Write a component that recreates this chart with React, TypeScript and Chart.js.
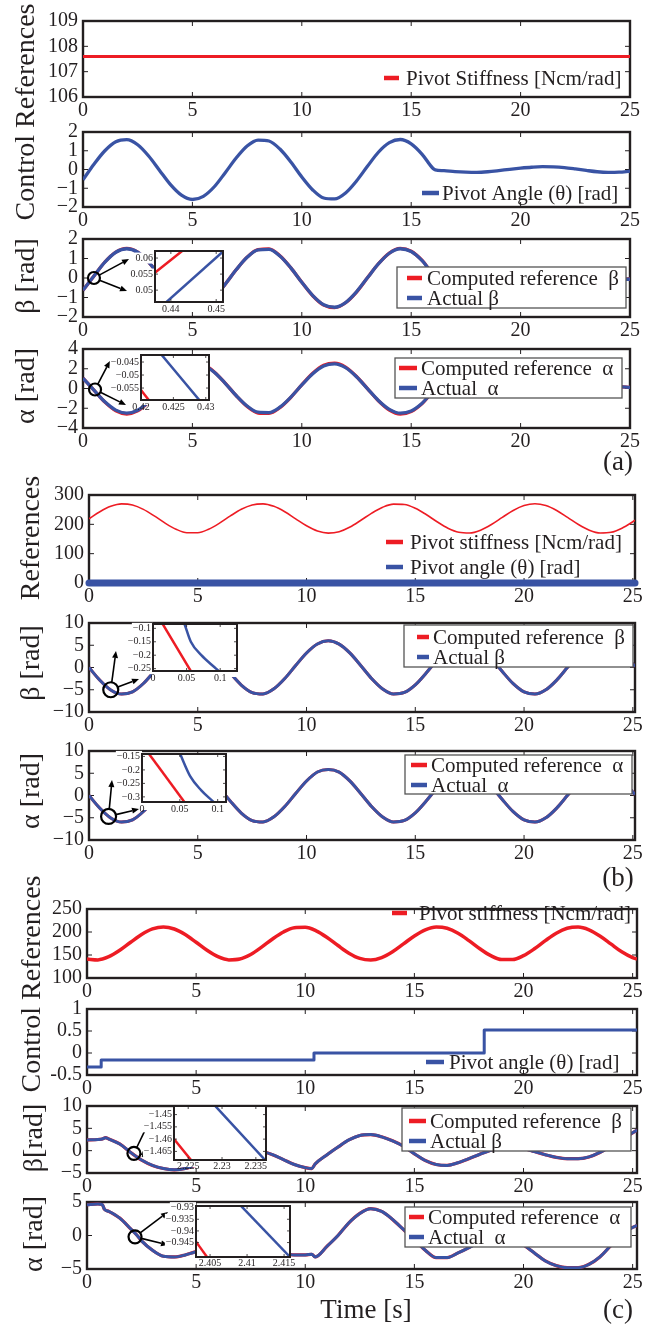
import React, { useEffect, useRef } from 'react';
import { Chart, registerables } from 'chart.js';

Chart.register(...registerables);

const FONT = '"Liberation Serif", "Times New Roman", Times, serif';
const RED = '#ed1c24';
const BLUE = '#3953a4';
const INK = '#231f20';

// ------------------------------------------------------------------ data
const X_TICKS = [0, 5, 10, 15, 20, 25];

const T_HALF = [0, 0.5, 1, 1.5, 2, 2.5, 3, 3.5, 4, 4.5, 5, 5.5, 6, 6.5, 7, 7.5, 8, 8.5, 9, 9.5, 10, 10.5, 11, 11.5, 12, 12.5, 13, 13.5, 14, 14.5, 15, 15.5, 16, 16.5, 17, 17.5, 18, 18.5, 19, 19.5, 20, 20.5, 21, 21.5, 22, 22.5, 23, 23.5, 24, 24.5, 25];

// (a)
const A1_T = [0, 25];
const A1_STIFFNESS = [107.6, 107.6];
const A1_YTICKS = [106, 107, 108, 109];

const A2_T = [0, 0.5, 1, 1.5, 2, 2.5, 3, 3.5, 4, 4.5, 5, 5.5, 6, 6.5, 7, 7.5, 8, 8.5, 9, 9.5, 10, 10.5, 11, 11.5, 12, 12.5, 13, 13.5, 14, 14.5, 15, 15.5, 16, 16.1, 16.5, 17, 17.5, 18, 18.5, 19, 19.5, 20, 20.5, 21, 21.5, 22, 22.5, 23, 23.5, 24, 24.5, 25];
const A2_THETA = [-0.55, 0.28, 1.0, 1.48, 1.59, 1.32, 0.72, -0.05, -0.81, -1.37, -1.6, -1.43, -0.92, -0.17, 0.61, 1.25, 1.57, 1.52, 1.09, 0.4, -0.4, -1.09, -1.52, -1.57, -1.25, -0.61, 0.17, 0.92, 1.43, 1.6, 1.37, 0.81, 0.05, -0.02, -0.06, -0.11, -0.14, -0.15, -0.12, -0.06, 0.01, 0.07, 0.12, 0.15, 0.14, 0.1, 0.03, -0.05, -0.12, -0.15, -0.14, -0.09];
const A2_YTICKS = [-2, -1, 0, 1, 2];

const A3_BETA_ACT = [-0.63, 0.1, 0.81, 1.32, 1.5, 1.32, 0.81, 0.11, -0.62, -1.2, -1.49, -1.41, -0.98, -0.32, 0.42, 1.06, 1.44, 1.47, 1.13, 0.52, -0.22, -0.9, -1.37, -1.5, -1.26, -0.71, 0.01, 0.72, 1.27, 1.5, 1.36, 0.89, 0.21, -0.06, -0.11, -0.14, -0.15, -0.12, -0.06, 0.01, 0.07, 0.12, 0.15, 0.14, 0.1, 0.03, -0.05, -0.12, -0.15, -0.12, -0.05];
const A3_BETA_REF = [-0.63, 0.1, 0.82, 1.33, 1.52, 1.33, 0.82, 0.11, -0.63, -1.21, -1.51, -1.42, -0.99, -0.32, 0.42, 1.07, 1.46, 1.49, 1.14, 0.52, -0.22, -0.91, -1.39, -1.52, -1.27, -0.72, 0.01, 0.73, 1.28, 1.52, 1.37, 0.9, 0.21, -0.06, -0.11, -0.14, -0.15, -0.12, -0.06, 0.01, 0.07, 0.12, 0.15, 0.14, 0.1, 0.03, -0.05, -0.12, -0.15, -0.12, -0.05];
const A3_YTICKS = [-2, -1, 0, 1, 2];

const A4_ALPHA_ACT = [1.04, -0.17, -1.35, -2.19, -2.5, -2.2, -1.35, -0.18, 1.04, 2.0, 2.48, 2.35, 1.64, 0.53, -0.71, -1.77, -2.4, -2.44, -1.89, -0.87, 0.36, 1.5, 2.28, 2.49, 2.11, 1.19, -0.01, -1.21, -2.11, -2.5, -2.27, -1.49, -0.34, 0.08, 0.18, 0.23, 0.25, 0.2, 0.1, -0.01, -0.12, -0.2, -0.25, -0.23, -0.16, -0.05, 0.08, 0.2, 0.25, 0.2, 0.12];
const A4_ALPHA_REF = [1.05, -0.17, -1.38, -2.26, -2.58, -2.27, -1.38, -0.18, 1.06, 2.06, 2.56, 2.42, 1.68, 0.54, -0.73, -1.83, -2.48, -2.52, -1.94, -0.89, 0.37, 1.54, 2.35, 2.57, 2.17, 1.22, -0.01, -1.24, -2.18, -2.58, -2.34, -1.53, -0.35, 0.08, 0.18, 0.23, 0.25, 0.2, 0.1, -0.01, -0.12, -0.2, -0.25, -0.23, -0.16, -0.05, 0.08, 0.2, 0.25, 0.2, 0.12];
const A4_YTICKS = [-4, -2, 0, 2, 4];

// (a) insets
const A3_IN_XTICKS = [0.44, 0.45];
const A3_IN_YTICKS = [0.05, 0.055, 0.06];
const A3_IN_REF_T = [0.435, 0.444];
const A3_IN_REF = [0.0538, 0.0639];
const A3_IN_ACT_T = [0.438, 0.4525];
const A3_IN_ACT = [0.045, 0.0633];

const A4_IN_XTICKS = [0.42, 0.425, 0.43];
const A4_IN_YTICKS = [-0.055, -0.05, -0.045];
const A4_IN_REF_T = [0.4195, 0.4218];
const A4_IN_REF = [-0.0542, -0.0615];
const A4_IN_ACT_T = [0.4228, 0.4296];
const A4_IN_ACT = [-0.0411, -0.0614];

// (b)
const B_T = [0, 0.5, 1, 1.5, 2, 2.5, 3, 3.5, 4, 4.5, 5, 5.5, 6, 6.5, 7, 7.5, 8, 8.5, 9, 9.5, 10, 10.5, 11, 11.5, 12, 12.5, 13, 13.5, 14, 14.5, 15, 15.5, 16, 16.5, 17, 17.5, 18, 18.5, 19, 19.5, 20, 20.5, 21, 21.5, 22, 22.5, 23, 23.5, 24, 24.5, 25, 25.1];
const B1_STIFFNESS = [218.8, 242.8, 261.3, 269.7, 266.1, 251.1, 228.7, 204.1, 183.4, 171.5, 171.5, 183.4, 204.1, 228.7, 251.2, 266.1, 269.8, 261.3, 242.8, 218.8, 195.0, 177.2, 170.1, 174.9, 190.8, 213.8, 238.3, 258.3, 269.0, 267.8, 254.9, 233.4, 208.9, 186.9, 173.0, 170.6, 180.2, 199.5, 223.7, 247.2, 263.9, 270.0, 263.9, 247.1, 223.7, 199.5, 180.2, 170.6, 172.9, 186.9, 208.9, 213.8];
const B1_ANGLE_T = [0, 25.1];
const B1_ANGLE = [0, 0];
const B1_YTICKS = [0, 100, 200, 300];

const B2_BETA_ACT = [0, -2.87, -5.05, -5.98, -5.46, -3.59, -0.85, 2.1, 4.54, 5.87, 5.75, 4.24, 1.68, -1.29, -3.94, -5.63, -5.94, -4.79, -2.47, 0.45, 3.26, 5.28, 6.0, 5.25, 3.22, 0.4, -2.52, -4.82, -5.95, -5.61, -3.9, -1.24, 1.73, 4.27, 5.77, 5.87, 4.51, 2.05, -0.9, -3.63, -5.48, -5.98, -5.02, -2.83, 0.05, 2.92, 5.08, 5.99, 5.44, 3.55, 0.79, 0.2];
const B2_BETA_REF = [0, -2.87, -5.05, -5.98, -5.46, -3.59, -0.85, 2.1, 4.54, 5.87, 5.75, 4.24, 1.68, -1.29, -3.94, -5.63, -5.94, -4.79, -2.47, 0.45, 3.26, 5.28, 6.0, 5.25, 3.22, 0.4, -2.52, -4.82, -5.95, -5.61, -3.9, -1.24, 1.73, 4.27, 5.77, 5.87, 4.51, 2.05, -0.9, -3.63, -5.48, -5.98, -5.02, -2.83, 0.05, 2.92, 5.08, 5.99, 5.44, 3.55, 0.79, 0.2];
const B3_ALPHA_ACT = [0, -2.87, -5.05, -5.98, -5.46, -3.59, -0.85, 2.1, 4.54, 5.75, 5.65, 4.24, 1.68, -1.29, -3.94, -5.63, -5.94, -4.79, -2.47, 0.45, 3.26, 5.28, 5.85, 5.25, 3.22, 0.4, -2.52, -4.82, -5.95, -5.61, -3.9, -1.24, 1.73, 4.27, 5.65, 5.75, 4.51, 2.05, -0.9, -3.63, -5.48, -5.98, -5.02, -2.83, 0.05, 2.92, 5.08, 5.85, 5.44, 3.55, 0.79, 0.2];
const B3_ALPHA_REF = [0, -2.87, -5.05, -5.98, -5.46, -3.59, -0.85, 2.1, 4.54, 5.75, 5.65, 4.24, 1.68, -1.29, -3.94, -5.63, -5.94, -4.79, -2.47, 0.45, 3.26, 5.28, 5.85, 5.25, 3.22, 0.4, -2.52, -4.82, -5.95, -5.61, -3.9, -1.24, 1.73, 4.27, 5.65, 5.75, 4.51, 2.05, -0.9, -3.63, -5.48, -5.98, -5.02, -2.83, 0.05, 2.92, 5.08, 5.85, 5.44, 3.55, 0.79, 0.2];
const B_YTICKS = [-10, -5, 0, 5, 10];

// (b) insets
const B2_IN_XTICKS = [0, 0.05, 0.1];
const B2_IN_YTICKS = [-0.25, -0.2, -0.15, -0.1];
const B2_IN_REF_T = [0.012, 0.058];
const B2_IN_REF = [-0.0738, -0.2661];
const B2_IN_ACT_T = [0.045, 0.0469, 0.0563, 0.0719, 0.0938, 0.099];
const B2_IN_ACT = [-0.071, -0.0838, -0.15, -0.2, -0.25, -0.262];

const B3_IN_XTICKS = [0, 0.05, 0.1];
const B3_IN_YTICKS = [-0.3, -0.25, -0.2, -0.15];
const B3_IN_REF_T = [0.007, 0.058];
const B3_IN_REF = [-0.1322, -0.3266];
const B3_IN_ACT_T = [0.049, 0.0505, 0.064, 0.078, 0.0945, 0.097];
const B3_IN_ACT = [-0.131, -0.141, -0.225, -0.275, -0.319, -0.326];

// (c)
const C_T = [0, 0.5, 1, 1.5, 2, 2.5, 3, 3.5, 4, 4.5, 5, 5.5, 6, 6.5, 7, 7.5, 8, 8.5, 9, 9.5, 10, 10.5, 11, 11.5, 12, 12.5, 13, 13.5, 14, 14.5, 15, 15.5, 16, 16.5, 17, 17.5, 18, 18.5, 19, 19.5, 20, 20.5, 21, 21.5, 22, 22.5, 23, 23.5, 24, 24.5, 25, 25.2];
const C1_STIFFNESS = [141.2, 139.4, 146.3, 160.2, 177.7, 194.5, 206.6, 211.0, 206.5, 194.5, 177.7, 160.2, 146.3, 139.4, 141.2, 151.2, 167.0, 184.8, 200.1, 209.4, 210.3, 202.6, 188.2, 170.6, 154.0, 142.5, 139.0, 144.3, 157.0, 174.1, 191.5, 204.7, 210.8, 208.1, 197.4, 181.3, 163.6, 148.6, 140.1, 140.1, 148.6, 163.5, 181.2, 197.4, 208.1, 210.8, 204.8, 191.5, 174.2, 157.0, 144.3, 141.2];
const C1_YTICKS = [100, 150, 200, 250];

const C2_T = [0, 0.65, 10.4, 18.2, 25.2];
const C2_THETA = [-0.32, -0.16, 0.0, 0.52, 0.52];
const C2_YTICKS = [-0.5, 0, 0.5, 1];

const C3_T = [0, 0.5, 0.7, 0.85, 1, 1.5, 2, 2.5, 3, 3.5, 4, 4.5, 5, 5.5, 6, 6.5, 7, 7.5, 8, 8.5, 9, 9.5, 10, 10.3, 10.45, 11, 11.5, 12, 12.5, 13, 13.5, 14, 14.5, 15, 15.5, 16, 16.5, 17, 17.5, 18, 18.5, 19, 19.5, 20, 20.5, 21, 21.5, 22, 22.5, 23, 23.5, 24, 24.5, 25, 25.2];
const C3_BETA_ACT = [2.4, 2.5, 2.6, 2.9, 2.6, 1.5, -0.4, -2.1, -3.3, -4.0, -4.3, -4.0, -3.2, -2.2, -1.0, 0.0, 0.5, 0.4, -0.1, -0.9, -2.0, -3.1, -3.8, -4.0, -3.0, -0.9, 0.8, 2.4, 3.4, 3.6, 3.1, 2.2, 1.0, -0.7, -2.2, -3.1, -3.3, -2.7, -1.8, -0.8, 0.1, 0.6, 0.8, 0.5, -0.2, -0.9, -1.5, -1.8, -1.8, -1.4, -0.4, 1.0, 2.5, 4.0, 4.6];
const C3_BETA_REF = [2.4, 2.5, 2.6, 2.9, 2.6, 1.5, -0.4, -2.1, -3.3, -4.0, -4.3, -4.0, -3.2, -2.2, -1.0, 0.0, 0.5, 0.4, -0.1, -0.9, -2.0, -3.1, -3.8, -4.0, -3.0, -0.9, 0.8, 2.4, 3.4, 3.6, 3.1, 2.2, 1.0, -0.7, -2.2, -3.1, -3.3, -2.7, -1.8, -0.8, 0.1, 0.6, 0.8, 0.5, -0.2, -0.9, -1.5, -1.8, -1.8, -1.4, -0.4, 1.0, 2.5, 4.0, 4.6];
const C3_YTICKS = [-5, 0, 5, 10];

const C4_T = [0, 0.5, 0.7, 0.8, 1, 1.5, 2, 2.3, 2.5, 3, 3.5, 4, 4.5, 5, 5.5, 6, 6.5, 7, 7.5, 8, 8.5, 9, 9.5, 10, 10.3, 10.45, 11, 11.5, 12, 12.5, 13, 13.5, 14, 14.5, 15, 15.5, 16, 16.5, 17, 17.5, 18, 18.5, 19, 19.5, 20, 20.5, 21, 21.5, 22, 22.5, 23, 23.5, 24, 24.5, 25, 25.2];
const C4_ALPHA_ACT = [4.6, 4.7, 4.6, 3.9, 3.6, 2.6, 1.0, 0.0, -0.8, -2.2, -3.1, -3.2, -2.9, -2.4, -1.8, -1.2, -0.8, -0.7, -1.0, -1.5, -2.1, -2.6, -2.9, -2.9, -2.8, -3.2, -1.6, 0.0, 1.9, 3.3, 4.0, 3.6, 2.4, 0.9, -0.6, -2.2, -3.3, -3.3, -2.6, -1.8, -0.9, -0.2, 0.0, -0.4, -1.4, -2.6, -3.8, -4.5, -4.8, -4.8, -4.3, -3.2, -1.5, 0.2, 1.2, 1.5];
const C4_ALPHA_REF = [4.6, 4.7, 4.6, 3.9, 3.6, 2.6, 1.0, 0.0, -0.8, -2.2, -3.1, -3.2, -2.9, -2.4, -1.8, -1.2, -0.8, -0.7, -1.0, -1.5, -2.1, -2.6, -2.9, -2.9, -2.8, -3.2, -1.6, 0.0, 1.9, 3.3, 4.0, 3.6, 2.4, 0.9, -0.6, -2.2, -3.3, -3.3, -2.6, -1.8, -0.9, -0.2, 0.0, -0.4, -1.4, -2.6, -3.8, -4.5, -4.8, -4.8, -4.3, -3.2, -1.5, 0.2, 1.2, 1.5];
const C4_YTICKS = [-5, 0, 5];

// (c) insets
const C3_IN_XTICKS = [2.225, 2.23, 2.235];
const C3_IN_YTICKS = [-1.465, -1.46, -1.455, -1.45];
const C3_IN_REF_T = [2.2222, 2.226];
const C3_IN_REF = [-1.4576, -1.4705];
const C3_IN_ACT_T = [2.2285, 2.237];
const C3_IN_ACT = [-1.445, -1.4704];

const C4_IN_XTICKS = [2.405, 2.41, 2.415];
const C4_IN_YTICKS = [-0.945, -0.94, -0.935, -0.93];
const C4_IN_REF_T = [2.4025, 2.405];
const C4_IN_REF = [-0.942, -0.953];
const C4_IN_ACT_T = [2.4088, 2.4162];
const C4_IN_ACT = [-0.928, -0.9525];

// ------------------------------------------------------------------ types
type Series = { x: number[]; y: number[]; color: string; width: number; order?: number; stepped?: boolean; noClip?: boolean; cap?: 'butt' | 'round' };
type LegendSpec = { items: { label: string; color: string }[]; s0: number; s1: number; tx: number; rows: number[]; box?: [number, number, number, number] };
type Annot = { cx: number; cy: number; r: number; ends: [number, number][] };
type Panel = {
  left: number; right: number; top: number; bottom: number;
  xMin: number; xMax: number; yMin: number; yMax: number; yTicks: number[]; xTicks?: number[];
  hyphen?: boolean; series: Series[]; legend?: LegendSpec; annot?: Annot; stripH?: number; labelPad?: number;
};
type Spec = Panel & {
  cx: number; cy: number; cw: number; ch: number; yAxisW: number; padT: number; padR: number; xAxisH: number;
  xTicks: number[]; fontSize: number; padX: number; padY: number; tickLen: number; tickW: number; frameW: number;
  frameOnTop: boolean; white: boolean;
};

const fmt = (v: number, hyphen = false) => (v < 0 ? (hyphen ? '-' : '\u2212') + String(Math.abs(v)) : String(v));

// ------------------------------------------------------------------ layout
const W = 657;
const M_PAD_T = 14;
const M_XAXIS_H = 30;

function mainSpec(p: Panel): Spec {
  return {
    ...p,
    xTicks: p.xTicks ?? X_TICKS,
    cx: 0, cy: p.top - M_PAD_T, cw: W, ch: p.bottom - p.top + M_PAD_T + M_XAXIS_H,
    yAxisW: p.left, padT: M_PAD_T, padR: W - p.right, xAxisH: M_XAXIS_H,
    fontSize: 20, padX: 2, padY: 5, tickLen: 5, tickW: 1, frameW: 2.4, frameOnTop: false, white: false,
  };
}

const I_L = 42, I_T = 8, I_R = 16, I_B = 16;
function insetSpec(p: Panel): Spec {
  return {
    ...p,
    xTicks: p.xTicks ?? [],
    cx: p.left - I_L, cy: p.top - I_T, cw: p.right - p.left + I_L + I_R, ch: p.bottom - p.top + I_T + I_B,
    yAxisW: I_L, padT: I_T, padR: I_R, xAxisH: I_B,
    fontSize: 10, padX: p.labelPad ?? 1, padY: 2, tickLen: 3, tickW: 0.8, frameW: 2, frameOnTop: true, white: true,
  };
}

const red = (x: number[], y: number[], width: number): Series => ({ x, y, color: RED, width, order: 1 });
const blue = (x: number[], y: number[], width: number): Series => ({ x, y, color: BLUE, width, order: 0 });

const MAIN: Spec[] = [
  mainSpec({
    left: 83, right: 630, top: 18, bottom: 97, xMin: 0, xMax: 25, yMin: 106, yMax: 109, yTicks: A1_YTICKS,
    series: [red(A1_T, A1_STIFFNESS, 3)],
    legend: { items: [{ label: 'Pivot Stiffness [Ncm/rad]', color: RED }], s0: 384, s1: 399, tx: 406, rows: [78] },
  }),
  mainSpec({
    left: 83, right: 630, top: 129, bottom: 207, xMin: 0, xMax: 25, yMin: -2, yMax: 2, yTicks: A2_YTICKS,
    series: [blue(A2_T, A2_THETA, 3.3)],
    legend: { items: [{ label: 'Pivot Angle (\u03b8) [rad]', color: BLUE }], s0: 422, s1: 439, tx: 442, rows: [193] },
  }),
  mainSpec({
    left: 83, right: 630, top: 236, bottom: 317, xMin: 0, xMax: 25, yMin: -2, yMax: 2, yTicks: A3_YTICKS,
    series: [red(T_HALF, A3_BETA_REF, 3.3), blue(T_HALF, A3_BETA_ACT, 3.3)],
    legend: { items: [{ label: 'Computed reference  \u03b2', color: RED }, { label: 'Actual \u03b2', color: BLUE }], s0: 407, s1: 422, tx: 427, rows: [278, 298], box: [397, 267, 626, 308] },
    annot: { cx: 0.5, cy: 0, r: 6, ends: [[129, 259], [127, 291]] },
  }),
  mainSpec({
    left: 83, right: 630, top: 346, bottom: 428, xMin: 0, xMax: 25, yMin: -4, yMax: 4, yTicks: A4_YTICKS,
    series: [red(T_HALF, A4_ALPHA_REF, 3.3), blue(T_HALF, A4_ALPHA_ACT, 3.3)],
    legend: { items: [{ label: 'Computed reference  \u03b1', color: RED }, { label: 'Actual  \u03b1', color: BLUE }], s0: 399, s1: 417, tx: 421, rows: [368, 388], box: [395, 358, 622, 398] },
    annot: { cx: 0.55, cy: -0.1, r: 6, ends: [[110, 361], [126, 405]] },
  }),
  mainSpec({
    left: 89, right: 635, top: 492, bottom: 583, xMin: 0, xMax: 25.1, yMin: 0, yMax: 300, yTicks: B1_YTICKS,
    series: [red(B_T, B1_STIFFNESS, 1.6), { x: B1_ANGLE_T, y: B1_ANGLE, color: BLUE, width: 7, order: 0, noClip: true, cap: 'round' }],
    legend: { items: [{ label: 'Pivot stiffness [Ncm/rad]', color: RED }, { label: 'Pivot angle (\u03b8) [rad]', color: BLUE }], s0: 386, s1: 403, tx: 410, rows: [542, 567] },
  }),
  mainSpec({
    left: 89, right: 635, top: 620, bottom: 712, xMin: 0, xMax: 25.1, yMin: -10, yMax: 10, yTicks: B_YTICKS,
    series: [red(B_T, B2_BETA_REF, 3), blue(B_T, B2_BETA_ACT, 3)],
    legend: { items: [{ label: 'Computed reference  \u03b2', color: RED }, { label: 'Actual \u03b2', color: BLUE }], s0: 417, s1: 429, tx: 433, rows: [637, 657], box: [404, 625, 633, 667] },
    annot: { cx: 1.0, cy: -5.0, r: 7.5, ends: [[116, 651], [139, 679]] },
  }),
  mainSpec({
    left: 89, right: 635, top: 748, bottom: 840, xMin: 0, xMax: 25.1, yMin: -10, yMax: 10, yTicks: B_YTICKS,
    series: [red(B_T, B3_ALPHA_REF, 3), blue(B_T, B3_ALPHA_ACT, 3)],
    legend: { items: [{ label: 'Computed reference  \u03b1', color: RED }, { label: 'Actual  \u03b1', color: BLUE }], s0: 411, s1: 427, tx: 431, rows: [765, 785], box: [405, 755, 632, 794] },
    annot: { cx: 0.9, cy: -4.7, r: 7.5, ends: [[112, 780], [139, 809]] },
  }),
  mainSpec({
    left: 87, right: 637, top: 906, bottom: 978, xMin: 0, xMax: 25.2, yMin: 100, yMax: 250, yTicks: C1_YTICKS,
    series: [red(C_T, C1_STIFFNESS, 3.5)],
    legend: { items: [{ label: 'Pivot stiffness [Ncm/rad]', color: RED }], s0: 392, s1: 407, tx: 419, rows: [913] },
  }),
  mainSpec({
    left: 87, right: 637, top: 1006, bottom: 1075, xMin: 0, xMax: 25.2, yMin: -0.5, yMax: 1, yTicks: C2_YTICKS, hyphen: true,
    series: [{ x: C2_T, y: C2_THETA, color: BLUE, width: 3, stepped: true }],
    legend: { items: [{ label: 'Pivot angle (\u03b8) [rad]', color: BLUE }], s0: 426, s1: 444, tx: 449, rows: [1062] },
  }),
  mainSpec({
    left: 87, right: 637, top: 1103, bottom: 1173, xMin: 0, xMax: 25.2, yMin: -5, yMax: 10, yTicks: C3_YTICKS,
    series: [red(C3_T, C3_BETA_REF, 3.2), blue(C3_T, C3_BETA_ACT, 3)],
    legend: { items: [{ label: 'Computed reference  \u03b2', color: RED }, { label: 'Actual \u03b2', color: BLUE }], s0: 409, s1: 426, tx: 430, rows: [1121, 1141], box: [402, 1108, 631, 1151] },
    annot: { cx: 2.15, cy: -0.6, r: 6.5, ends: [[149, 1122], [149, 1155]] },
  }),
  mainSpec({
    left: 87, right: 637, top: 1199, bottom: 1269, xMin: 0, xMax: 25.2, yMin: -5, yMax: 5, yTicks: C4_YTICKS,
    series: [red(C4_T, C4_ALPHA_REF, 3.2), blue(C4_T, C4_ALPHA_ACT, 3)],
    legend: { items: [{ label: 'Computed reference  \u03b1', color: RED }, { label: 'Actual  \u03b1', color: BLUE }], s0: 409, s1: 424, tx: 428, rows: [1217, 1237], box: [405, 1207, 631, 1247] },
    annot: { cx: 2.2, cy: -0.2, r: 6.5, ends: [[168, 1212], [168, 1245]] },
  }),
];

const INSETS: Spec[] = [
  insetSpec({ left: 155, right: 223, top: 251, bottom: 302, xMin: 0.4365, xMax: 0.4515, yMin: 0.0463, yMax: 0.0622, xTicks: A3_IN_XTICKS, yTicks: A3_IN_YTICKS, stripH: 7,
    series: [red(A3_IN_REF_T, A3_IN_REF, 2.5), blue(A3_IN_ACT_T, A3_IN_ACT, 2.5)] }),
  insetSpec({ left: 141, right: 209, top: 355, bottom: 400, xMin: 0.42, xMax: 0.4305, yMin: -0.0596, yMax: -0.0423, xTicks: A4_IN_XTICKS, yTicks: A4_IN_YTICKS, stripH: 5,
    series: [red(A4_IN_REF_T, A4_IN_REF, 2.5), blue(A4_IN_ACT_T, A4_IN_ACT, 2.5)] }),
  insetSpec({ left: 153, right: 237, top: 624, bottom: 671, xMin: 0, xMax: 0.125, yMin: -0.2588, yMax: -0.0838, xTicks: B2_IN_XTICKS, yTicks: B2_IN_YTICKS, stripH: 6,
    series: [red(B2_IN_REF_T, B2_IN_REF, 2.5), blue(B2_IN_ACT_T, B2_IN_ACT, 2.5)] }),
  insetSpec({ left: 142, right: 226, top: 754, bottom: 802, xMin: 0, xMax: 0.111, yMin: -0.319, yMax: -0.141, xTicks: B3_IN_XTICKS, yTicks: B3_IN_YTICKS, stripH: 8,
    series: [red(B3_IN_REF_T, B3_IN_REF, 2.5), blue(B3_IN_ACT_T, B3_IN_ACT, 2.5)] }),
  insetSpec({ left: 174, right: 266, top: 1106, bottom: 1160, xMin: 2.2229, xMax: 2.2365, yMin: -1.4685, yMax: -1.4465, xTicks: C3_IN_XTICKS, yTicks: C3_IN_YTICKS, stripH: 7, labelPad: 0,
    series: [red(C3_IN_REF_T, C3_IN_REF, 2.5), blue(C3_IN_ACT_T, C3_IN_ACT, 2.5)] }),
  insetSpec({ left: 196, right: 290, top: 1206, bottom: 1257, xMin: 2.4031, xMax: 2.4158, yMin: -0.9512, yMax: -0.9293, xTicks: C4_IN_XTICKS, yTicks: C4_IN_YTICKS, stripH: 6, labelPad: 0,
    series: [red(C4_IN_REF_T, C4_IN_REF, 2.5), blue(C4_IN_ACT_T, C4_IN_ACT, 2.5)] }),
];

const ALL: Spec[] = [...MAIN, ...INSETS];

const V_TITLES = [
  { text: 'Control References', x: 25, y: 112 },
  { text: '\u03b2 [rad]', x: 25, y: 276 },
  { text: '\u03b1 [rad]', x: 25, y: 386 },
  { text: 'References', x: 30, y: 538 },
  { text: '\u03b2 [rad]', x: 30, y: 663 },
  { text: '\u03b1 [rad]', x: 30, y: 791 },
  { text: 'Control References', x: 31, y: 984 },
  { text: '\u03b2[rad]', x: 33, y: 1138 },
  { text: '\u03b1 [rad]', x: 33, y: 1234 },
];
const H_TEXTS = [
  { text: '(a)', x: 618, y: 461, size: 27 },
  { text: '(b)', x: 618, y: 877, size: 27 },
  { text: '(c)', x: 618, y: 1309, size: 27 },
  { text: 'Time [s]', x: 366, y: 1309, size: 27 },
];

// ------------------------------------------------------------------ drawing helpers
function arrow(ctx: CanvasRenderingContext2D, x0: number, y0: number, x1: number, y1: number) {
  const ang = Math.atan2(y1 - y0, x1 - x0);
  const hl = 7, hw = 3;
  const bx = x1 - hl * Math.cos(ang), by = y1 - hl * Math.sin(ang);
  ctx.beginPath();
  ctx.moveTo(x0, y0);
  ctx.lineTo(bx, by);
  ctx.stroke();
  ctx.beginPath();
  ctx.moveTo(x1, y1);
  ctx.lineTo(bx - hw * Math.sin(ang), by + hw * Math.cos(ang));
  ctx.lineTo(bx + hw * Math.sin(ang), by - hw * Math.cos(ang));
  ctx.closePath();
  ctx.fill();
}

function makePlugin(s: Spec) {
  const drawFrame = (chart: any) => {
    const { ctx, chartArea: a } = chart;
    const xs = chart.scales.x, ys = chart.scales.y;
    ctx.save();
    ctx.strokeStyle = INK;
    ctx.lineWidth = s.tickW;
    ctx.beginPath();
    for (const v of s.xTicks) {
      const p = xs.getPixelForValue(v);
      if (p < a.left + 2 || p > a.right - 2) continue;
      ctx.moveTo(p, a.bottom); ctx.lineTo(p, a.bottom - s.tickLen);
      ctx.moveTo(p, a.top); ctx.lineTo(p, a.top + s.tickLen);
    }
    for (const v of s.yTicks) {
      const p = ys.getPixelForValue(v);
      if (p < a.top + 2 || p > a.bottom - 2) continue;
      ctx.moveTo(a.left, p); ctx.lineTo(a.left + s.tickLen, p);
      ctx.moveTo(a.right, p); ctx.lineTo(a.right - s.tickLen, p);
    }
    ctx.stroke();
    ctx.lineWidth = s.frameW;
    ctx.strokeRect(a.left, a.top, a.right - a.left, a.bottom - a.top);
    ctx.restore();
  };
  return {
    id: 'deco',
    beforeDraw(chart: any) {
      if (!s.white) return;
      const { ctx, chartArea: a } = chart;
      const ys = chart.scales.y;
      ctx.save();
      ctx.fillStyle = '#ffffff';
      ctx.font = `${s.fontSize}px ${FONT}`;
      ctx.fillRect(a.left - 1, a.top - 1, a.right - a.left + 2, a.bottom - a.top + 1 + (s.stripH ?? 6));
      for (const v of s.yTicks) {
        const w = ctx.measureText(fmt(v)).width;
        const p = ys.getPixelForValue(v);
        ctx.fillRect(a.left - s.padY - w - 1, p - s.fontSize * 0.55, w + s.padY + 1, s.fontSize * 1.1);
      }
      ctx.restore();
    },
    beforeDatasetsDraw(chart: any) {
      if (!s.frameOnTop) drawFrame(chart);
    },
    afterDatasetsDraw(chart: any) {
      if (s.frameOnTop) drawFrame(chart);
      if (s.annot) {
        const { ctx } = chart;
        const xs = chart.scales.x, ys = chart.scales.y;
        const cx = xs.getPixelForValue(s.annot.cx), cy = ys.getPixelForValue(s.annot.cy);
        ctx.save();
        ctx.strokeStyle = '#000';
        ctx.fillStyle = '#000';
        ctx.lineWidth = 2.2;
        ctx.beginPath();
        ctx.arc(cx, cy, s.annot.r, 0, Math.PI * 2);
        ctx.stroke();
        ctx.lineWidth = 1.6;
        for (const [ex, ey] of s.annot.ends) {
          const tx = ex - s.cx, ty = ey - s.cy;
          const d = Math.hypot(tx - cx, ty - cy);
          const sx = cx + ((tx - cx) / d) * s.annot.r, sy = cy + ((ty - cy) / d) * s.annot.r;
          arrow(ctx, sx, sy, tx, ty);
        }
        ctx.restore();
      }
    },
    afterDraw(chart: any) {
      const lg = s.legend;
      if (!lg) return;
      const { ctx } = chart;
      ctx.save();
      if (lg.box) {
        const [x0, y0, x1, y1] = lg.box;
        ctx.fillStyle = '#ffffff';
        ctx.fillRect(x0 - s.cx, y0 - s.cy, x1 - x0, y1 - y0);
        ctx.strokeStyle = '#555555';
        ctx.lineWidth = 1.3;
        ctx.strokeRect(x0 - s.cx, y0 - s.cy, x1 - x0, y1 - y0);
      }
      ctx.font = `21px ${FONT}`;
      ctx.textBaseline = 'middle';
      ctx.textAlign = 'left';
      lg.items.forEach((it, i) => {
        const y = lg.rows[i] - s.cy;
        ctx.strokeStyle = it.color;
        ctx.lineWidth = 4.5;
        ctx.beginPath();
        ctx.moveTo(lg.s0 - s.cx, y);
        ctx.lineTo(lg.s1 - s.cx, y);
        ctx.stroke();
        ctx.fillStyle = INK;
        ctx.fillText(it.label, lg.tx - s.cx, y + 1);
      });
      ctx.restore();
    },
  };
}

function makeChart(canvas: HTMLCanvasElement, s: Spec) {
  const font = { family: FONT, size: s.fontSize };
  const config: any = {
    type: 'line',
    data: {
      datasets: s.series.map((d) => ({
        data: d.x.map((x, i) => ({ x, y: d.y[i] })),
        borderColor: d.color,
        backgroundColor: d.color,
        borderWidth: d.width,
        pointRadius: 0,
        pointHoverRadius: 0,
        fill: false,
        order: d.order ?? 0,
        stepped: d.stepped ? true : false,
        cubicInterpolationMode: d.stepped ? 'default' : 'monotone',
        borderCapStyle: d.cap ?? 'butt',
        borderJoinStyle: 'round',
        ...(d.noClip ? { clip: false } : {}),
      })),
    },
    options: {
      responsive: false,
      animation: false,
      events: [],
      devicePixelRatio: 1,
      layout: { padding: { left: 0, top: s.padT, right: s.padR, bottom: 0 } },
      plugins: { legend: { display: false }, tooltip: { enabled: false }, title: { display: false } },
      scales: {
        x: {
          type: 'linear', min: s.xMin, max: s.xMax,
          afterBuildTicks: (sc: any) => { sc.ticks = s.xTicks.map((v) => ({ value: v })); },
          afterFit: (sc: any) => { sc.height = s.xAxisH; },
          grid: { display: false, drawTicks: false },
          border: { display: false },
          ticks: { autoSkip: false, maxRotation: 0, minRotation: 0, padding: s.padX, font, color: INK, callback: (v: any) => fmt(Number(v), s.hyphen) },
        },
        y: {
          type: 'linear', min: s.yMin, max: s.yMax,
          afterBuildTicks: (sc: any) => { sc.ticks = s.yTicks.map((v) => ({ value: v })); },
          afterFit: (sc: any) => { sc.width = s.yAxisW; },
          grid: { display: false, drawTicks: false },
          border: { display: false },
          ticks: { autoSkip: false, padding: s.padY, font, color: INK, callback: (v: any) => fmt(Number(v), s.hyphen) },
        },
      },
    },
    plugins: [makePlugin(s)],
  };
  return new Chart(canvas, config);
}

// ------------------------------------------------------------------ component
export default function App() {
  const refs = useRef<(HTMLCanvasElement | null)[]>([]);
  useEffect(() => {
    const charts = ALL.map((s, i) => makeChart(refs.current[i] as HTMLCanvasElement, s));
    return () => charts.forEach((c) => c.destroy());
  }, []);
  return (
    <div style={{ position: 'absolute', left: 0, top: 0, width: W, height: 1325, background: '#fff', fontFamily: FONT, color: INK, overflow: 'hidden' }}>
      {ALL.map((s, i) => (
        <canvas
          key={i}
          ref={(el) => { refs.current[i] = el; }}
          width={s.cw}
          height={s.ch}
          style={{ position: 'absolute', left: s.cx, top: s.cy, width: s.cw, height: s.ch }}
        />
      ))}
      {V_TITLES.map((t, i) => (
        <div key={'v' + i} style={{ position: 'absolute', left: t.x, top: t.y, transform: 'translate(-50%, -50%) rotate(-90deg)', whiteSpace: 'pre', fontSize: 28, lineHeight: 1 }}>
          {t.text}
        </div>
      ))}
      {H_TEXTS.map((t, i) => (
        <div key={'h' + i} style={{ position: 'absolute', left: t.x, top: t.y, transform: 'translate(-50%, -50%)', whiteSpace: 'pre', fontSize: t.size, lineHeight: 1 }}>
          {t.text}
        </div>
      ))}
    </div>
  );
}
